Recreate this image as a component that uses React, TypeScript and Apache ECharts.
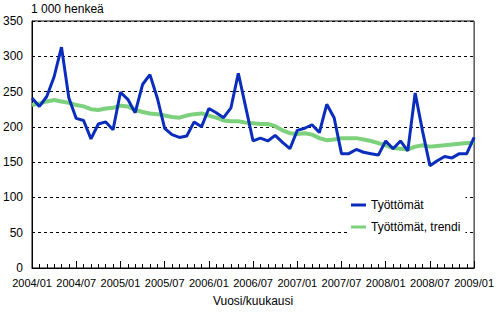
import React, { useEffect, useRef } from "react";
import * as echarts from "echarts";

const months: string[] = [];
for (let y = 2004; y <= 2009; y++) {
  for (let m = 1; m <= 12; m++) {
    if (y === 2009 && m > 1) break;
    months.push(`${y}/${m < 10 ? "0" + m : m}`);
  }
}

const unemployed = [
  241, 229, 243, 271, 313, 241, 212, 209, 183, 204, 207, 196,
  249, 239, 220, 260, 274, 241, 198, 189, 185, 187, 207, 200,
  226, 220, 213, 227, 276, 228, 180, 184, 180, 188, 178, 169,
  195, 198, 203, 192, 232, 213, 162, 162, 168, 164, 162, 160,
  180, 169, 180, 166, 248, 194, 145, 152, 158, 156, 162, 162,
  185,
];

const trend = [
  231, 233, 236, 238, 236, 234, 231, 229, 225, 224, 226, 227,
  230, 229, 224, 221, 219, 218, 216, 214, 213, 216, 218, 219,
  216, 213, 209, 208, 208, 206, 205, 204, 204, 201, 195, 191,
  190, 191, 189, 184, 181, 182, 184, 184, 184, 182, 180, 177,
  174, 170, 169, 168, 172, 174, 172, 173, 174, 175, 176, 177,
  177,
];

const seriesNames = ["Työttömät", "Työttömät, trendi"];
const FONT = "Liberation Sans, Arial, sans-serif";

export default function App() {
  const ref = useRef<HTMLDivElement>(null);
  useEffect(() => {
    if (!ref.current) return;
    const chart = echarts.init(ref.current, undefined, { renderer: "svg" });
    chart.setOption({
      animation: false,
      backgroundColor: "#fff",
      textStyle: { fontFamily: FONT, color: "#000" },
      title: {
        text: "1 000 henkeä",
        left: 31,
        top: 3,
        padding: 0,
        textStyle: { fontSize: 12, fontWeight: "normal", color: "#000", fontFamily: FONT },
      },
      grid: {
        left: 32,
        right: 19,
        top: 21,
        bottom: 43,
        show: true,
        borderColor: "#000",
        borderWidth: 1,
        backgroundColor: "transparent",
      },
      legend: {
        orient: "vertical",
        left: 348,
        top: 195,
        padding: [4, 5, 3, 3],
        backgroundColor: "#fff",
        itemWidth: 15,
        itemHeight: 3,
        itemGap: 10,
        icon: "rect",
        data: seriesNames,
        textStyle: { fontSize: 12, color: "#000", fontFamily: FONT },
      },
      xAxis: [
        {
          type: "category",
          data: months,
          boundaryGap: false,
          axisLine: { show: true, lineStyle: { color: "#000", width: 1 } },
          axisTick: { show: true, inside: true, length: 7, interval: 5, lineStyle: { color: "#000" } },
          axisLabel: { interval: 5, fontSize: 11, color: "#000", margin: 9, fontFamily: FONT },
          splitLine: { show: false },
          name: "Vuosi/kuukausi",
          nameLocation: "middle",
          nameGap: 27,
          nameTextStyle: { fontSize: 12, color: "#000", fontFamily: FONT },
        },
        {
          type: "category",
          data: months,
          boundaryGap: false,
          position: "bottom",
          axisLine: { show: false },
          axisTick: { show: true, inside: true, length: 4, interval: 0, lineStyle: { color: "#000" } },
          axisLabel: { show: false },
          splitLine: { show: false },
        },
      ],
      yAxis: {
        type: "value",
        min: 0,
        max: 350,
        interval: 50,
        axisLine: { show: true, lineStyle: { color: "#000", width: 1 } },
        axisTick: { show: false },
        axisLabel: { fontSize: 12, color: "#000", margin: 9, fontFamily: FONT },
        splitLine: { show: true, lineStyle: { color: "#000", type: [3, 3], width: 1 } },
      },
      series: [
        {
          name: seriesNames[0],
          type: "line",
          data: unemployed,
          xAxisIndex: 0,
          showSymbol: false,
          symbol: "none",
          z: 3,
          lineStyle: { color: "#0a2dbc", width: 3 },
          itemStyle: { color: "#0a2dbc" },
        },
        {
          name: seriesNames[1],
          type: "line",
          data: trend,
          xAxisIndex: 0,
          showSymbol: false,
          symbol: "none",
          z: 2,
          lineStyle: { color: "#7dd17d", width: 4 },
          itemStyle: { color: "#7dd17d" },
        },
      ],
    });
    return () => chart.dispose();
  }, []);
  return (
    <div
      ref={ref}
      style={{ position: "fixed", left: 0, top: 0, width: 497, height: 312 }}
    />
  );
}
